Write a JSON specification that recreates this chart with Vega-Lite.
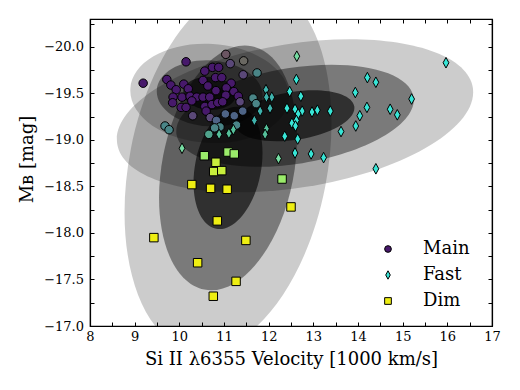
{
  "$schema": "https://vega.github.io/schema/vega-lite/v6.json",
  "width": 402,
  "height": 307,
  "autosize": "none",
  "padding": {"left": 90, "top": 19, "right": 28, "bottom": 64},
  "config": {
    "font": "DejaVu Serif",
    "view": {"stroke": "black", "strokeWidth": 1.2},
    "axis": {
      "domainColor": "black", "domainWidth": 1.2, "tickColor": "black", "tickWidth": 1, "tickSize": -4,
      "labelColor": "black", "titleColor": "black", "labelFont": "DejaVu Serif", "titleFont": "DejaVu Serif",
      "labelFontSize": 13, "titleFontSize": 18, "titleFontWeight": "normal", "grid": false,
      "labelOverlap": false, "labelFlush": false
    },
    "legend": {
      "orient": "none", "legendX": 289, "legendY": 221, "padding": 0,
      "labelFont": "DejaVu Serif", "labelFontSize": 18, "labelColor": "black",
      "symbolStrokeColor": "black", "symbolStrokeWidth": 1, "symbolSize": 45,
      "rowPadding": 8, "labelOffset": 26
    }
  },
  "datasets": {
    "ellipses": [
      {"group": "Main", "level": 1, "velocity": 10.68, "mag": -19.50},
      {"group": "Main", "level": 2, "velocity": 10.68, "mag": -19.50},
      {"group": "Main", "level": 3, "velocity": 10.68, "mag": -19.50},
      {"group": "Fast", "level": 1, "velocity": 12.59, "mag": -19.26},
      {"group": "Fast", "level": 2, "velocity": 12.59, "mag": -19.26},
      {"group": "Fast", "level": 3, "velocity": 12.59, "mag": -19.26},
      {"group": "Dim", "level": 1, "velocity": 11.09, "mag": -18.70},
      {"group": "Dim", "level": 2, "velocity": 11.09, "mag": -18.70},
      {"group": "Dim", "level": 3, "velocity": 11.09, "mag": -18.70}
    ],
    "sne": [
      {"kind": "Main", "velocity": 9.19, "mag": -19.61},
      {"kind": "Main", "velocity": 10.15, "mag": -19.84},
      {"kind": "Main~br", "velocity": 11.04, "mag": -19.92},
      {"kind": "Main~gb", "velocity": 11.44, "mag": -19.85},
      {"kind": "Main~pg", "velocity": 11.14, "mag": -19.82},
      {"kind": "Main", "velocity": 10.74, "mag": -19.78},
      {"kind": "Main", "velocity": 10.88, "mag": -19.78},
      {"kind": "Main", "velocity": 10.57, "mag": -19.74},
      {"kind": "Main~pg", "velocity": 11.43, "mag": -19.70},
      {"kind": "Main~tg", "velocity": 11.74, "mag": -19.72},
      {"kind": "Main", "velocity": 10.81, "mag": -19.67},
      {"kind": "Main", "velocity": 10.95, "mag": -19.67},
      {"kind": "Main", "velocity": 9.72, "mag": -19.65},
      {"kind": "Main", "velocity": 10.53, "mag": -19.64},
      {"kind": "Main", "velocity": 11.16, "mag": -19.61},
      {"kind": "Main", "velocity": 9.81, "mag": -19.59},
      {"kind": "Main", "velocity": 10.10, "mag": -19.60},
      {"kind": "Main", "velocity": 10.64, "mag": -19.58},
      {"kind": "Main", "velocity": 9.93, "mag": -19.54},
      {"kind": "Main", "velocity": 10.20, "mag": -19.55},
      {"kind": "Main", "velocity": 11.05, "mag": -19.56},
      {"kind": "Main", "velocity": 10.82, "mag": -19.53},
      {"kind": "Main", "velocity": 11.22, "mag": -19.52},
      {"kind": "Main", "velocity": 9.86, "mag": -19.46},
      {"kind": "Main", "velocity": 10.06, "mag": -19.46},
      {"kind": "Main", "velocity": 10.24, "mag": -19.47},
      {"kind": "Main", "velocity": 10.39, "mag": -19.46},
      {"kind": "Main", "velocity": 10.53, "mag": -19.46},
      {"kind": "Main", "velocity": 10.68, "mag": -19.46},
      {"kind": "Main", "velocity": 11.04, "mag": -19.48},
      {"kind": "Main", "velocity": 11.32, "mag": -19.47},
      {"kind": "Main", "velocity": 9.85, "mag": -19.40},
      {"kind": "Main", "velocity": 10.28, "mag": -19.42},
      {"kind": "Main", "velocity": 10.04, "mag": -19.35},
      {"kind": "Main", "velocity": 10.15, "mag": -19.35},
      {"kind": "Main", "velocity": 10.57, "mag": -19.36},
      {"kind": "Main", "velocity": 10.73, "mag": -19.38},
      {"kind": "Main", "velocity": 10.86, "mag": -19.40},
      {"kind": "Main", "velocity": 10.97, "mag": -19.41},
      {"kind": "Main~pg", "velocity": 11.36, "mag": -19.41},
      {"kind": "Main", "velocity": 10.60, "mag": -19.31},
      {"kind": "Main~pg", "velocity": 10.30, "mag": -19.26},
      {"kind": "Main~pg", "velocity": 10.69, "mag": -19.24},
      {"kind": "Main~bg", "velocity": 11.03, "mag": -19.28},
      {"kind": "Main~bg", "velocity": 11.23, "mag": -19.26},
      {"kind": "Main~bg", "velocity": 11.42, "mag": -19.31},
      {"kind": "Main~tg", "velocity": 11.65, "mag": -19.45},
      {"kind": "Main~tg", "velocity": 11.72, "mag": -19.39},
      {"kind": "Main~bg", "velocity": 10.83, "mag": -19.21},
      {"kind": "Main~tg", "velocity": 10.91, "mag": -19.14},
      {"kind": "Main~tg", "velocity": 10.79, "mag": -19.13},
      {"kind": "Main~tgr", "velocity": 10.66, "mag": -19.06},
      {"kind": "Main~tg", "velocity": 9.68, "mag": -19.15},
      {"kind": "Main~tg", "velocity": 9.77, "mag": -19.11},
      {"kind": "Main~tg", "velocity": 11.28, "mag": -19.16},
      {"kind": "Fast~g", "velocity": 12.63, "mag": -19.90},
      {"kind": "Fast", "velocity": 15.97, "mag": -19.83},
      {"kind": "Fast", "velocity": 12.62, "mag": -19.65},
      {"kind": "Fast", "velocity": 14.21, "mag": -19.67},
      {"kind": "Fast", "velocity": 14.40, "mag": -19.62},
      {"kind": "Fast", "velocity": 12.47, "mag": -19.52},
      {"kind": "Fast", "velocity": 12.72, "mag": -19.47},
      {"kind": "Fast", "velocity": 13.94, "mag": -19.51},
      {"kind": "Fast", "velocity": 15.20, "mag": -19.44},
      {"kind": "Fast~t", "velocity": 11.94, "mag": -19.54},
      {"kind": "Fast~t", "velocity": 12.07, "mag": -19.46},
      {"kind": "Fast~t", "velocity": 11.95, "mag": -19.46},
      {"kind": "Fast~t", "velocity": 12.03, "mag": -19.34},
      {"kind": "Fast~t", "velocity": 11.81, "mag": -19.31},
      {"kind": "Fast", "velocity": 12.41, "mag": -19.34},
      {"kind": "Fast", "velocity": 12.59, "mag": -19.33},
      {"kind": "Fast", "velocity": 12.75, "mag": -19.31},
      {"kind": "Fast", "velocity": 12.97, "mag": -19.30},
      {"kind": "Fast", "velocity": 13.09, "mag": -19.32},
      {"kind": "Fast", "velocity": 13.38, "mag": -19.31},
      {"kind": "Fast", "velocity": 14.20, "mag": -19.35},
      {"kind": "Fast", "velocity": 14.72, "mag": -19.33},
      {"kind": "Fast", "velocity": 14.88, "mag": -19.27},
      {"kind": "Fast", "velocity": 14.04, "mag": -19.26},
      {"kind": "Fast", "velocity": 12.66, "mag": -19.28},
      {"kind": "Fast", "velocity": 13.95, "mag": -19.15},
      {"kind": "Fast", "velocity": 12.52, "mag": -19.18},
      {"kind": "Fast", "velocity": 12.62, "mag": -19.21},
      {"kind": "Fast", "velocity": 12.60, "mag": -19.15},
      {"kind": "Fast", "velocity": 13.62, "mag": -19.09},
      {"kind": "Fast~t", "velocity": 11.68, "mag": -19.21},
      {"kind": "Fast~tg", "velocity": 11.95, "mag": -19.12},
      {"kind": "Fast~tg", "velocity": 11.92, "mag": -19.06},
      {"kind": "Fast", "velocity": 12.36, "mag": -19.04},
      {"kind": "Fast", "velocity": 12.65, "mag": -19.01},
      {"kind": "Fast~g", "velocity": 12.22, "mag": -18.80},
      {"kind": "Fast", "velocity": 12.59, "mag": -18.86},
      {"kind": "Fast", "velocity": 12.95, "mag": -18.85},
      {"kind": "Fast", "velocity": 13.23, "mag": -18.81},
      {"kind": "Fast", "velocity": 14.40, "mag": -18.69},
      {"kind": "Fast~g", "velocity": 10.06, "mag": -18.91},
      {"kind": "Fast~tg", "velocity": 10.89, "mag": -19.06},
      {"kind": "Fast~tg", "velocity": 11.11, "mag": -19.07},
      {"kind": "Fast~tg", "velocity": 11.21, "mag": -19.11},
      {"kind": "Dim~g", "velocity": 10.56, "mag": -18.83},
      {"kind": "Dim~g", "velocity": 11.09, "mag": -18.87},
      {"kind": "Dim~g", "velocity": 11.23, "mag": -18.85},
      {"kind": "Dim~yg", "velocity": 10.82, "mag": -18.76},
      {"kind": "Dim~yg", "velocity": 10.77, "mag": -18.66},
      {"kind": "Dim~yg", "velocity": 10.95, "mag": -18.67},
      {"kind": "Dim", "velocity": 10.28, "mag": -18.52},
      {"kind": "Dim", "velocity": 10.70, "mag": -18.48},
      {"kind": "Dim", "velocity": 11.07, "mag": -18.47},
      {"kind": "Dim~g", "velocity": 12.30, "mag": -18.58},
      {"kind": "Dim", "velocity": 12.50, "mag": -18.28},
      {"kind": "Dim", "velocity": 10.85, "mag": -18.13},
      {"kind": "Dim", "velocity": 9.43, "mag": -17.95},
      {"kind": "Dim", "velocity": 11.49, "mag": -17.92},
      {"kind": "Dim", "velocity": 10.41, "mag": -17.68},
      {"kind": "Dim", "velocity": 11.27, "mag": -17.48},
      {"kind": "Dim", "velocity": 10.76, "mag": -17.32}
    ]
  },
  "layer": [
    {
      "data": {"name": "ellipses"},
      "transform": [{"filter": "datum.group === 'Main'"}],
      "mark": {"type": "point", "filled": true, "color": "black", "strokeWidth": 0, "clip": true, "angle": 3.5,
        "shape": "M1.325,0C1.325,0.456 0.732,0.825 0,0.825C-0.732,0.825 -1.325,0.456 -1.325,0C-1.325,-0.456 -0.732,-0.825 0,-0.825C0.732,-0.825 1.325,-0.456 1.325,0Z"},
      "encoding": {
        "x": {"field": "velocity", "type": "quantitative", "scale": {"domain": [8, 17], "nice": false, "zero": false},
          "axis": {"orient": "top", "values": [8,8.5,9,9.5,10,10.5,11,11.5,12,12.5,13,13.5,14,14.5,15,15.5,16,16.5,17], "labels": false, "title": null}},
        "y": {"field": "mag", "type": "quantitative", "scale": {"domain": [-20.3, -17.0], "nice": false, "zero": false, "reverse": true},
          "axis": {"orient": "right", "values": [-20.25,-20,-19.75,-19.5,-19.25,-19,-18.75,-18.5,-18.25,-18,-17.75,-17.5,-17.25,-17], "labels": false, "title": null}},
        "size": {"field": "level", "type": "quantitative", "scale": {"type": "pow", "exponent": 2, "domain": [0, 3], "range": [0, 14400]}, "legend": null},
        "opacity": {"field": "level", "type": "quantitative", "scale": {"domain": [1, 3], "range": [0.6, 0.2]}, "legend": null}
      }
    },
    {
      "data": {"name": "ellipses"},
      "transform": [{"filter": "datum.group === 'Fast'"}],
      "mark": {"type": "point", "filled": true, "color": "black", "strokeWidth": 0, "clip": true, "angle": 351,
        "shape": "M3,0C3,0.663 1.657,1.2 0,1.2C-1.657,1.2 -3,0.663 -3,0C-3,-0.663 -1.657,-1.2 0,-1.2C1.657,-1.2 3,-0.663 3,0Z"},
      "encoding": {
        "x": {"field": "velocity", "type": "quantitative", "scale": {"domain": [8, 17], "nice": false, "zero": false}, "axis": null},
        "y": {"field": "mag", "type": "quantitative", "scale": {"domain": [-20.3, -17.0], "nice": false, "zero": false, "reverse": true}, "axis": null},
        "size": {"field": "level", "type": "quantitative", "scale": {"type": "pow", "exponent": 2, "domain": [0, 3], "range": [0, 14400]}, "legend": null},
        "opacity": {"field": "level", "type": "quantitative", "scale": {"domain": [1, 3], "range": [0.6, 0.2]}, "legend": null}
      }
    },
    {
      "data": {"name": "ellipses"},
      "transform": [{"filter": "datum.group === 'Dim'"}],
      "mark": {"type": "point", "filled": true, "color": "black", "strokeWidth": 0, "clip": true, "angle": 11,
        "shape": "M1.65,0C1.65,1.712 0.911,3.1 0,3.1C-0.911,3.1 -1.65,1.712 -1.65,0C-1.65,-1.712 -0.911,-3.1 0,-3.1C0.911,-3.1 1.65,-1.712 1.65,0Z"},
      "encoding": {
        "x": {"field": "velocity", "type": "quantitative", "scale": {"domain": [8, 17], "nice": false, "zero": false}, "axis": null},
        "y": {"field": "mag", "type": "quantitative", "scale": {"domain": [-20.3, -17.0], "nice": false, "zero": false, "reverse": true}, "axis": null},
        "size": {"field": "level", "type": "quantitative", "scale": {"type": "pow", "exponent": 2, "domain": [0, 3], "range": [0, 14400]}, "legend": null},
        "opacity": {"field": "level", "type": "quantitative", "scale": {"domain": [1, 3], "range": [0.6, 0.2]}, "legend": null}
      }
    },
    {
      "data": {"name": "sne"},
      "mark": {"type": "point", "filled": true, "opacity": 1, "stroke": "black", "strokeWidth": 1, "size": 72},
      "encoding": {
        "x": {"field": "velocity", "type": "quantitative", "scale": {"domain": [8, 17], "nice": false, "zero": false},
          "axis": {"orient": "bottom", "values": [8,8.5,9,9.5,10,10.5,11,11.5,12,12.5,13,13.5,14,14.5,15,15.5,16,16.5,17],
            "labelExpr": "datum.value % 1 === 0 ? format(datum.value, 'd') : ''", "labelPadding": 8, "titlePadding": 7,
            "title": "Si II λ6355 Velocity [1000 km/s]"}},
        "y": {"field": "mag", "type": "quantitative", "scale": {"domain": [-20.3, -17.0], "nice": false, "zero": false, "reverse": true},
          "axis": {"orient": "left", "values": [-20.25,-20,-19.75,-19.5,-19.25,-19,-18.75,-18.5,-18.25,-18,-17.75,-17.5,-17.25,-17],
            "labelExpr": "abs(datum.value * 2 - round(datum.value * 2)) < 0.001 ? format(datum.value, '.1f') : ''",
            "labelPadding": 10.5, "titlePadding": 7, "titleY": 140, "title": "Mʙ [mag]"}},
        "color": {"field": "kind", "type": "nominal",
          "scale": {"domain": ["Main","Fast","Dim","Main~pg","Main~bg","Main~tg","Main~tgr","Main~br","Main~gb","Fast~t","Fast~tg","Fast~g","Dim~yg","Dim~g"],
            "range": ["#47196b","#38e5d6","#eeee12","#5a4878","#4e6486","#4a8587","#50a38c","#6b5562","#6a6862","#3fb3ad","#55c09a","#76dca2","#c8ef3c","#9aeb6a"]},
          "legend": {"values": ["Main","Fast","Dim"], "title": null}},
        "shape": {"field": "kind", "type": "nominal",
          "scale": {"domain": ["Main","Fast","Dim","Main~pg","Main~bg","Main~tg","Main~tgr","Main~br","Main~gb","Fast~t","Fast~tg","Fast~g","Dim~yg","Dim~g"],
            "range": ["circle","M0,-1.25L0.68,0L0,1.25L-0.68,0Z","square","circle","circle","circle","circle","circle","circle","M0,-1.25L0.68,0L0,1.25L-0.68,0Z","M0,-1.25L0.68,0L0,1.25L-0.68,0Z","M0,-1.25L0.68,0L0,1.25L-0.68,0Z","square","square"]},
          "legend": {"values": ["Main","Fast","Dim"], "title": null}}
      }
    }
  ],
  "resolve": {"axis": {"x": "independent", "y": "independent"}}
}
